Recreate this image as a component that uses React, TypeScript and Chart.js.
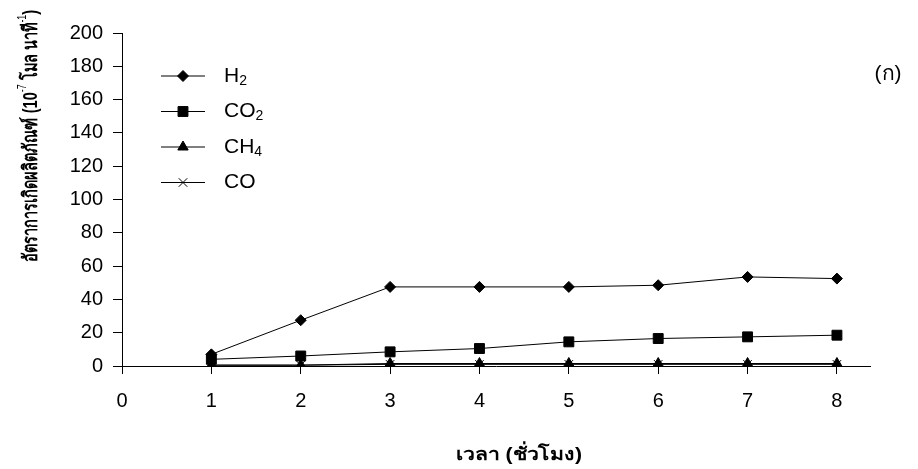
import React, { useEffect, useRef } from "react";
import { Chart, registerables } from "chart.js";

Chart.register(...registerables);

// Reaction time (hours)
const hours = [1, 2, 3, 4, 5, 6, 7, 8];

// Product formation rates (10^-7 mol/min)
const h2Rate = [7, 27.5, 47.5, 47.5, 47.5, 48.5, 53.5, 52.5];
const co2Rate = [4, 6, 8.5, 10.5, 14.5, 16.5, 17.5, 18.5];
const ch4Rate = [0.5, 0.5, 1.5, 1.5, 1.5, 1.5, 1.5, 1.5];
const coRate = [0.5, 0.5, 1, 1, 1, 1, 1, 1];

// Legend labels: base text + subscript
const seriesNames: [string, string][] = [
  ["H", "2"],
  ["CO", "2"],
  ["CH", "4"],
  ["CO", ""],
];
const pointStyles = ["rectRot", "rect", "triangle", "crossRot"];
const pointRadii = [5.5, 7, 6, 6];

const yTicks = [0, 20, 40, 60, 80, 100, 120, 140, 160, 180, 200];
const xTicks = [0, 1, 2, 3, 4, 5, 6, 7, 8];

const yTitleParts: [string, boolean][] = [
  ["อัตราการเกิดผลิตภัณฑ์ (10", false],
  ["-7", true],
  [" โมล นาที", false],
  ["-1", true],
  [")", false],
];
const xTitle = "เวลา (ชั่วโมง)";
const panelLabel = "(ก)";

const FONT = "'Liberation Sans', Arial, 'Noto Sans', sans-serif";

function drawMarker(ctx: CanvasRenderingContext2D, style: string, x: number, y: number, r: number) {
  ctx.beginPath();
  if (style === "rectRot") {
    ctx.moveTo(x - r, y);
    ctx.lineTo(x, y - r);
    ctx.lineTo(x + r, y);
    ctx.lineTo(x, y + r);
    ctx.closePath();
    ctx.fill();
    ctx.stroke();
  } else if (style === "rect") {
    const s = r * Math.SQRT1_2;
    ctx.rect(x - s, y - s, 2 * s, 2 * s);
    ctx.fill();
    ctx.stroke();
  } else if (style === "triangle") {
    const a = -Math.PI / 2;
    for (let i = 0; i < 3; i++) {
      const ang = a + (i * 2 * Math.PI) / 3;
      const px = x + Math.cos(ang) * r;
      const py = y + Math.sin(ang) * r;
      if (i === 0) ctx.moveTo(px, py);
      else ctx.lineTo(px, py);
    }
    ctx.closePath();
    ctx.fill();
    ctx.stroke();
  } else if (style === "crossRot") {
    const d = r * Math.SQRT1_2;
    ctx.moveTo(x - d, y - d);
    ctx.lineTo(x + d, y + d);
    ctx.moveTo(x - d, y + d);
    ctx.lineTo(x + d, y - d);
    ctx.stroke();
  }
}

const annotationsPlugin = {
  id: "annotations",
  afterDraw(chart: any) {
    const ctx: CanvasRenderingContext2D = chart.ctx;
    ctx.save();
    ctx.fillStyle = "#000";
    ctx.strokeStyle = "#000";
    ctx.lineWidth = 1;

    // Legend inside the plot area
    const rowsY = [76, 111.5, 147, 182.5];
    seriesNames.forEach(([base, sub], i) => {
      const y = rowsY[i];
      ctx.beginPath();
      ctx.moveTo(161, y);
      ctx.lineTo(205, y);
      ctx.stroke();
      drawMarker(ctx, pointStyles[i], 183, y, pointRadii[i]);
      ctx.font = `21px ${FONT}`;
      ctx.textBaseline = "middle";
      ctx.textAlign = "left";
      ctx.fillText(base, 224, y);
      if (sub) {
        const w = ctx.measureText(base).width;
        ctx.font = `14px ${FONT}`;
        ctx.fillText(sub, 224 + w, y + 5);
      }
    });

    // Panel label
    ctx.font = `21px ${FONT}`;
    ctx.textAlign = "center";
    ctx.textBaseline = "middle";
    ctx.fillText(panelLabel, 888, 74);

    // X axis title, stretched to its span
    ctx.save();
    ctx.font = `bold 18px ${FONT}`;
    const xw = ctx.measureText(xTitle).width;
    ctx.translate(519, 455);
    ctx.scale(126 / xw, 1);
    ctx.fillText(xTitle, 0, 0);
    ctx.restore();

    // Y axis title, rotated, with superscripts, fitted to its span
    const size = 20;
    const supFont = `${(size * 0.6).toFixed(1)}px ${FONT}`;
    const mainFont = `bold ${size}px ${FONT}`;
    let total = 0;
    yTitleParts.forEach(([t, sup]) => {
      ctx.font = sup ? supFont : mainFont;
      total += ctx.measureText(t).width;
    });
    ctx.translate(31, 136);
    ctx.rotate(-Math.PI / 2);
    ctx.scale(252 / total, 1);
    let cx = -total / 2;
    ctx.textAlign = "left";
    yTitleParts.forEach(([t, sup]) => {
      ctx.font = sup ? supFont : mainFont;
      ctx.fillText(t, cx, sup ? -size * 0.4 : 0);
      cx += ctx.measureText(t).width;
    });
    ctx.restore();
  },
};

export default function App() {
  const canvasRef = useRef<HTMLCanvasElement | null>(null);

  useEffect(() => {
    document.body.style.margin = "0";
    const canvas = canvasRef.current;
    if (!canvas) return;

    const series = [h2Rate, co2Rate, ch4Rate, coRate];
    const datasets = series.map((vals, i) => ({
      label: seriesNames[i].join(""),
      data: hours.map((h, j) => ({ x: h, y: vals[j] })),
      borderColor: "#000",
      backgroundColor: "#000",
      borderWidth: 1,
      pointStyle: pointStyles[i],
      pointRadius: pointRadii[i],
      pointBorderColor: "#000",
      pointBackgroundColor: "#000",
      pointBorderWidth: 1,
      tension: 0,
    }));

    const chart = new Chart(canvas, {
      type: "line",
      data: { datasets: datasets.reverse() as any },
      plugins: [annotationsPlugin],
      options: {
        animation: false,
        responsive: false,
        maintainAspectRatio: false,
        layout: { padding: { top: 33, right: 48, left: 0, bottom: 0 } },
        plugins: {
          legend: { display: false },
          tooltip: { enabled: false },
        },
        scales: {
          x: {
            type: "linear",
            min: 0,
            max: 8.37,
            afterBuildTicks: (s: any) => {
              s.ticks = xTicks.map((v) => ({ value: v }));
            },
            afterFit: (s: any) => {
              s.height = 103;
            },
            grid: {
              display: true,
              drawOnChartArea: false,
              drawTicks: true,
              tickLength: 8,
              color: "#000",
              tickColor: "#000",
            },
            border: { display: true, color: "#000", width: 1 },
            ticks: {
              color: "#000",
              padding: 15,
              font: { family: FONT, size: 20 },
              maxRotation: 0,
              autoSkip: false,
            },
          },
          y: {
            type: "linear",
            min: 0,
            max: 200,
            afterBuildTicks: (s: any) => {
              s.ticks = yTicks.map((v) => ({ value: v }));
            },
            afterFit: (s: any) => {
              s.width = 122;
            },
            grid: {
              display: true,
              drawOnChartArea: false,
              drawTicks: true,
              tickLength: 9,
              color: "#000",
              tickColor: "#000",
            },
            border: { display: true, color: "#000", width: 1 },
            ticks: {
              color: "#000",
              padding: 10,
              font: { family: FONT, size: 20 },
            },
          },
        },
      },
    });

    return () => chart.destroy();
  }, []);

  return <canvas ref={canvasRef} width={918} height={469} style={{ display: "block" }} />;
}
